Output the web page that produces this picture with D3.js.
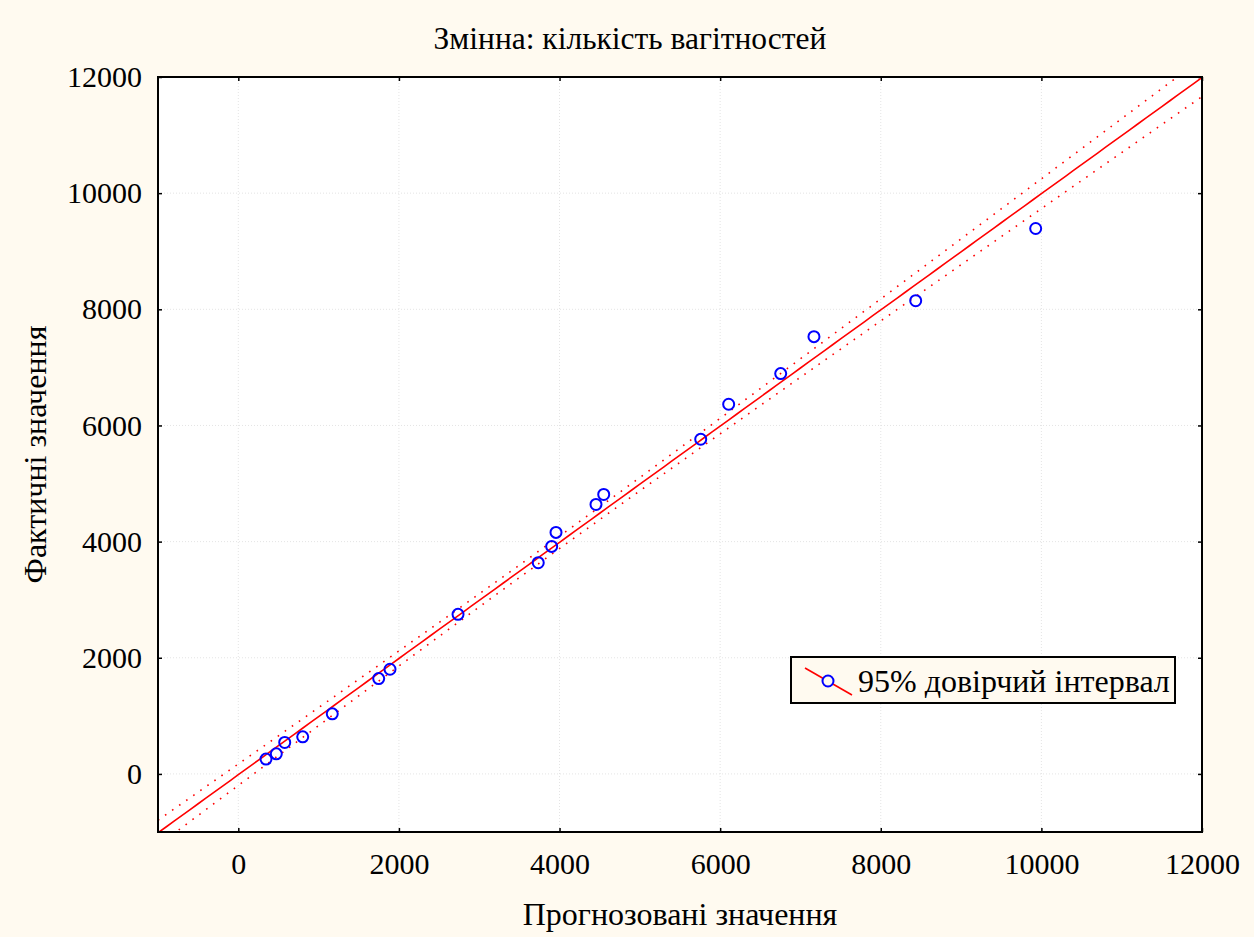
<!DOCTYPE html>
<html>
<head>
<meta charset="utf-8">
<script src="https://cdn.jsdelivr.net/npm/d3@7"></script>
<style>
  body { margin: 0; background: #fffaf0; }
  svg { display: block; font-family: "Liberation Serif", "Times New Roman", serif; }
</style>
</head>
<body>
<div id="chart"></div>
<script>
const predicted = [345, 473, 578, 802, 1170, 1748, 1889, 2736, 3735, 3902, 3956, 4454, 4550, 5758, 6106, 6754, 7168, 8435, 9929];
const actual    = [255, 346, 542, 638, 1034, 1642, 1802, 2748, 3637, 3917, 4158, 4640, 4812, 5763, 6365, 6893, 7529, 8148, 9391];
const xTicks = [0, 2000, 4000, 6000, 8000, 10000, 12000];
const yTicks = [0, 2000, 4000, 6000, 8000, 10000, 12000];
const titleText = "Змінна: кількість вагітностей";
const xLabel = "Прогнозовані значення";
const yLabel = "Фактичні значення";
const legendText = "95% довірчий інтервал";
const tCrit = 2.11; // t(0.975, df = 17)

const W = 1254, H = 937;
const margin = {top: 77, right: 52, bottom: 105, left: 158};
const width = W - margin.left - margin.right;
const height = H - margin.top - margin.bottom;

const xScale = d3.scaleLinear().domain([-1000, 12000]).range([0, width]);
const yScale = d3.scaleLinear().domain([-1000, 12000]).range([height, 0]);

// regression of actual on predicted + 95% confidence band for the mean
const n = predicted.length;
const mx = d3.mean(predicted), my = d3.mean(actual);
const sxx = d3.sum(predicted, d => (d - mx) * (d - mx));
const sxy = d3.sum(predicted, (d, i) => (d - mx) * (actual[i] - my));
const slope = sxy / sxx;
const icpt = my - slope * mx;
const sse = d3.sum(predicted, (d, i) => Math.pow(actual[i] - (icpt + slope * d), 2));
const s = Math.sqrt(sse / (n - 2));
const halfW = x => tCrit * s * Math.sqrt(1 / n + (x - mx) * (x - mx) / sxx);
const xs = d3.range(-1000, 12001, 100);

const svg = d3.select("#chart").append("svg")
    .attr("width", W)
    .attr("height", H);

svg.append("rect").attr("width", W).attr("height", H).attr("fill", "#fffaf0");

const g = svg.append("g")
    .attr("transform", "translate(" + margin.left + "," + margin.top + ")");

g.append("rect").attr("width", width).attr("height", height).attr("fill", "#fff");

g.append("clipPath").attr("id", "clip")
  .append("rect").attr("width", width).attr("height", height);

// grid
g.append("g").selectAll("line").data(xTicks.filter(d => d < 12000)).enter().append("line")
    .attr("x1", d => xScale(d)).attr("x2", d => xScale(d))
    .attr("y1", 0).attr("y2", height)
    .attr("stroke", "#e4e4e4").attr("stroke-dasharray", "1,2");
g.append("g").selectAll("line").data(yTicks.filter(d => d < 12000)).enter().append("line")
    .attr("y1", d => yScale(d)).attr("y2", d => yScale(d))
    .attr("x1", 0).attr("x2", width)
    .attr("stroke", "#e4e4e4").attr("stroke-dasharray", "1,2");

// axes (ticks point inward)
g.append("g")
    .attr("transform", "translate(0," + height + ")")
    .style("font-size", "30px").style("font-family", "inherit")
    .call(d3.axisBottom(xScale).tickValues(xTicks).tickSizeInner(-4).tickSizeOuter(0).tickPadding(21).tickFormat(d3.format("d")))
    .call(a => a.select(".domain").remove());
g.append("g")
    .style("font-size", "30px").style("font-family", "inherit")
    .call(d3.axisLeft(yScale).tickValues(yTicks).tickSizeInner(-4).tickSizeOuter(0).tickPadding(16).tickFormat(d3.format("d")))
    .call(a => a.select(".domain").remove());
g.append("g")
    .call(d3.axisTop(xScale).tickValues(xTicks).tickSizeInner(-4).tickSizeOuter(0).tickFormat(""))
    .call(a => a.select(".domain").remove());
g.append("g")
    .attr("transform", "translate(" + width + ",0)")
    .call(d3.axisRight(yScale).tickValues(yTicks).tickSizeInner(-4).tickSizeOuter(0).tickFormat(""))
    .call(a => a.select(".domain").remove());
g.selectAll(".tick line").attr("stroke", "#000").attr("stroke-width", 1.5);
g.selectAll(".tick text").attr("fill", "#000");

const plot = g.append("g").attr("clip-path", "url(#clip)");

const line = d3.line().x(d => xScale(d[0])).y(d => yScale(d[1]));

plot.append("path")
    .datum(xs.map(x => [x, icpt + slope * x]))
    .attr("fill", "none").attr("stroke", "#ff0000").attr("stroke-width", 1.6)
    .attr("d", line);
[1, -1].forEach(sign => {
  plot.append("path")
      .datum(xs.map(x => [x, icpt + slope * x + sign * halfW(x)]))
      .attr("fill", "none").attr("stroke", "#ff0000").attr("stroke-width", 1.6)
      .attr("stroke-dasharray", "1.6,7")
      .attr("d", line);
});

plot.selectAll(".dot")
    .data(predicted)
    .enter()
    .append("circle")
    .attr("fill", "none")
    .attr("stroke", "#0000ff")
    .attr("stroke-width", 2)
    .attr("cx", d => xScale(d))
    .attr("cy", (d, i) => yScale(actual[i]))
    .attr("r", 5.5);

// border
g.append("rect").attr("width", width).attr("height", height)
    .attr("fill", "none").attr("stroke", "#000").attr("stroke-width", 2);

// legend
const lg = g.append("g").attr("transform", "translate(" + (791 - margin.left) + "," + (657 - margin.top) + ")");
lg.append("rect").attr("width", 384).attr("height", 46)
    .attr("fill", "#fffaf0").attr("stroke", "#000").attr("stroke-width", 2);
lg.append("line").attr("x1", 14).attr("y1", 11).attr("x2", 61).attr("y2", 38)
    .attr("stroke", "#ff0000").attr("stroke-width", 1.6);
lg.append("circle").attr("cx", 37).attr("cy", 24).attr("r", 5.5)
    .attr("fill", "#fffaf0").attr("stroke", "#0000ff").attr("stroke-width", 2);
lg.append("text").attr("x", 67).attr("y", 35).style("font-size", "32px").text(legendText);

// titles
svg.append("text")
    .attr("x", 630).attr("y", 49)
    .style("text-anchor", "middle").style("font-size", "31.5px")
    .text(titleText);
svg.append("text")
    .attr("x", margin.left + width / 2).attr("y", 925)
    .style("text-anchor", "middle").style("font-size", "32px")
    .text(xLabel);
svg.append("text")
    .attr("transform", "rotate(-90)")
    .attr("x", -margin.top - height / 2).attr("y", 46)
    .style("text-anchor", "middle").style("font-size", "32px")
    .text(yLabel);
</script>
</body>
</html>
